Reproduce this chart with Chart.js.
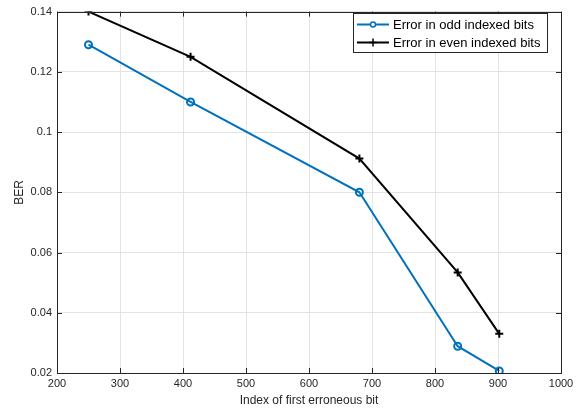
<!DOCTYPE html>
<html>
<head>
<meta charset="utf-8">
<title>BER vs index of first erroneous bit</title>
<script src="https://cdn.jsdelivr.net/npm/chart.js"></script>
<style>
html, body { margin: 0; padding: 0; background: #fff; }
#wrap { position: relative; width: 586px; height: 412px; }
</style>
</head>
<body>
<div id="wrap"><canvas id="berChart" width="586" height="412"></canvas></div>
<script>
// data
const bitIndex = [250, 412, 680, 836, 902];
const berOdd = [0.129, 0.110, 0.080, 0.0289, 0.0207];
const berEven = [0.140, 0.125, 0.0912, 0.0534, 0.0330];
const seriesNames = ['Error in odd indexed bits', 'Error in even indexed bits'];
const xTicks = [200, 300, 400, 500, 600, 700, 800, 900, 1000];
const yTicks = [0.02, 0.04, 0.06, 0.08, 0.1, 0.12, 0.14];

const BLUE = '#0072BD';
const FAMILY = 'Liberation Sans, Arial, sans-serif';
const TICK_FONT = { family: FAMILY, size: 11 };
const TITLE_FONT = { family: FAMILY, size: 12 };

function pts(ys) { return bitIndex.map((x, i) => ({ x: x, y: ys[i] })); }

// box, inward ticks and legend, MATLAB style
const matlabAxes = {
  id: 'matlabAxes',
  afterDraw(chart) {
    const c = chart.ctx, a = chart.chartArea;
    const sx = chart.scales.x, sy = chart.scales.y;
    c.save();
    c.strokeStyle = '#262626';
    c.lineWidth = 1;
    c.beginPath();
    xTicks.forEach(v => {
      const px = Math.round(sx.getPixelForValue(v)) + 0.5;
      c.moveTo(px, a.bottom); c.lineTo(px, a.bottom - 5);
      c.moveTo(px, a.top); c.lineTo(px, a.top + 5);
    });
    yTicks.forEach(v => {
      const py = Math.round(sy.getPixelForValue(v)) + 0.5;
      c.moveTo(a.left, py); c.lineTo(a.left + 5, py);
      c.moveTo(a.right, py); c.lineTo(a.right - 5, py);
    });
    c.stroke();
    c.strokeRect(Math.round(a.left) + 0.5, Math.round(a.top) + 0.5,
      Math.round(a.right - a.left), Math.round(a.bottom - a.top));

    // legend
    const lx = 353.5, ly = 13.5, lw = 194, lh = 39;
    c.fillStyle = '#fff';
    c.fillRect(lx, ly, lw, lh);
    c.strokeStyle = '#262626';
    c.strokeRect(lx, ly, lw, lh);
    const rows = [
      { y: 24.5, color: BLUE, style: 'circle' },
      { y: 42.5, color: '#000', style: 'cross' }
    ];
    c.font = '13px ' + FAMILY;
    c.textBaseline = 'middle';
    rows.forEach((r, i) => {
      c.strokeStyle = r.color;
      c.lineWidth = 2;
      c.beginPath(); c.moveTo(357, r.y); c.lineTo(389, r.y); c.stroke();
      c.lineWidth = 1.5;
      c.beginPath();
      if (r.style === 'circle') {
        c.fillStyle = '#fff';
        c.arc(373, r.y, 2.5, 0, Math.PI * 2);
        c.fill();
      } else {
        c.moveTo(369, r.y); c.lineTo(377, r.y);
        c.moveTo(373, r.y - 4); c.lineTo(373, r.y + 4);
      }
      c.stroke();
      c.fillStyle = '#000';
      c.fillText(seriesNames[i], 393, r.y + 0.5);
    });
    c.restore();
  }
};

new Chart(document.getElementById('berChart'), {
  type: 'scatter',
  data: {
    datasets: [{
      label: seriesNames[0],
      data: pts(berOdd),
      showLine: true,
      borderColor: BLUE,
      backgroundColor: 'rgba(255,255,255,0)',
      borderWidth: 2,
      pointStyle: 'circle',
      pointRadius: 3.5,
      pointBorderWidth: 2,
      pointBorderColor: BLUE,
      pointBackgroundColor: 'rgba(255,255,255,0)'
    }, {
      label: seriesNames[1],
      data: pts(berEven),
      showLine: true,
      borderColor: '#000',
      borderWidth: 2,
      pointStyle: 'cross',
      pointRadius: 4,
      pointBorderWidth: 2,
      pointBorderColor: '#000'
    }]
  },
  options: {
    responsive: false,
    animation: false,
    devicePixelRatio: 1,
    layout: { padding: { top: 7, right: 25, left: 0, bottom: 0 } },
    plugins: { legend: { display: false }, tooltip: { enabled: false } },
    scales: {
      x: {
        type: 'linear',
        min: 200, max: 1000,
        afterBuildTicks: s => { s.ticks = xTicks.map(v => ({ value: v })); },
        afterFit: s => { s.height = 39; },
        ticks: { color: '#262626', font: TICK_FONT, padding: 4, maxRotation: 0, autoSkip: false, callback: v => String(v) },
        grid: { color: '#e3e3e3', drawTicks: false },
        border: { display: false },
        title: { display: true, text: 'Index of first erroneous bit', color: '#262626', font: TITLE_FONT, padding: { top: 0, bottom: 4 } }
      },
      y: {
        min: 0.02, max: 0.14,
        afterBuildTicks: s => { s.ticks = yTicks.map(v => ({ value: v })); },
        afterFit: s => { s.width = 57; },
        ticks: { color: '#262626', font: TICK_FONT, padding: 5, autoSkip: false, callback: v => String(+v.toFixed(2)) },
        grid: { color: '#e3e3e3', drawTicks: false },
        border: { display: false },
        title: { display: true, text: 'BER', color: '#262626', font: TITLE_FONT, padding: { top: 12, bottom: 0 } }
      }
    }
  },
  plugins: [matlabAxes]
});
</script>
</body>
</html>
